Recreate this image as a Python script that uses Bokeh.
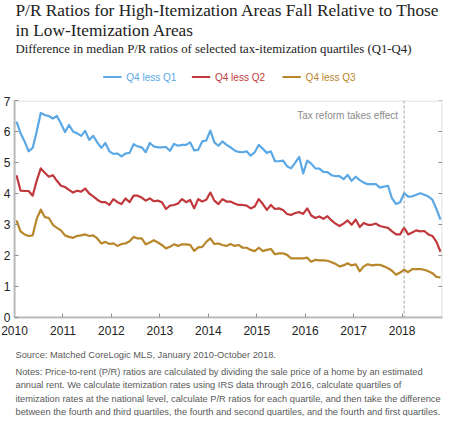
import math
import pandas as pd
from bokeh.plotting import figure
from bokeh.layouts import column
from bokeh.models import (Range1d, FixedTicker, Label, Span, ColumnDataSource, BoxAnnotation)
from bokeh.embed import file_html
from bokeh.resources import INLINE

# ---------------- data ----------------
months = pd.date_range("2010-01-01", "2018-10-01", freq="MS")

q4_less_q1 = [6.32, 5.94, 5.68, 5.36, 5.47, 6.00, 6.60, 6.53, 6.50, 6.42, 6.50, 6.26,
              5.98, 6.21, 6.00, 5.94, 5.86, 6.02, 5.73, 5.86, 5.65, 5.47, 5.63, 5.36,
              5.28, 5.29, 5.20, 5.29, 5.31, 5.59, 5.52, 5.49, 5.33, 5.63, 5.52, 5.49,
              5.49, 5.50, 5.38, 5.60, 5.54, 5.57, 5.57, 5.65, 5.39, 5.41, 5.68, 5.71,
              6.03, 5.65, 5.54, 5.68, 5.57, 5.49, 5.39, 5.34, 5.33, 5.36, 5.22, 5.33,
              5.57, 5.44, 5.31, 5.36, 5.04, 5.04, 5.06, 4.88, 4.81, 4.99, 5.18, 4.65,
              5.06, 4.96, 4.81, 4.80, 4.70, 4.69, 4.59, 4.56, 4.56, 4.46, 4.60, 4.41,
              4.54, 4.43, 4.35, 4.30, 4.30, 4.30, 4.19, 4.22, 4.25, 3.84, 3.66, 3.72,
              4.01, 3.90, 3.91, 3.96, 4.01, 3.96, 3.90, 3.80, 3.50, 3.16]

q4_less_q2 = [4.59, 4.09, 4.08, 4.08, 3.93, 4.41, 4.81, 4.67, 4.54, 4.59, 4.41, 4.25,
              4.21, 4.12, 4.03, 4.09, 4.06, 4.16, 4.00, 3.91, 3.80, 3.72, 3.72, 3.63,
              3.82, 3.72, 3.66, 3.84, 3.72, 3.93, 3.93, 3.87, 3.77, 3.84, 3.75, 3.77,
              3.72, 3.50, 3.61, 3.63, 3.68, 3.82, 3.72, 3.79, 3.52, 3.82, 3.74, 3.80,
              4.03, 3.77, 3.66, 3.82, 3.74, 3.74, 3.68, 3.63, 3.63, 3.61, 3.52, 3.58,
              3.82, 3.66, 3.47, 3.63, 3.50, 3.52, 3.47, 3.34, 3.31, 3.37, 3.40, 3.34,
              3.52, 3.29, 3.21, 3.26, 3.18, 3.27, 3.13, 3.03, 2.95, 3.03, 3.13, 2.99,
              3.16, 2.92, 3.05, 2.99, 2.99, 3.03, 2.95, 2.92, 2.89, 2.78, 2.68, 2.68,
              2.90, 2.68, 2.74, 2.81, 2.78, 2.79, 2.68, 2.63, 2.44, 2.12]

q4_less_q3 = [3.13, 2.78, 2.68, 2.63, 2.65, 3.18, 3.48, 3.24, 3.21, 2.99, 2.89, 2.81,
              2.65, 2.60, 2.57, 2.63, 2.65, 2.68, 2.63, 2.65, 2.55, 2.39, 2.44, 2.37,
              2.39, 2.31, 2.37, 2.39, 2.46, 2.60, 2.55, 2.55, 2.36, 2.42, 2.49, 2.42,
              2.34, 2.23, 2.28, 2.36, 2.31, 2.36, 2.36, 2.34, 2.15, 2.26, 2.28, 2.44,
              2.55, 2.37, 2.39, 2.34, 2.31, 2.37, 2.31, 2.34, 2.25, 2.25, 2.18, 2.14,
              2.25, 2.14, 2.18, 2.21, 2.04, 2.07, 2.07, 2.02, 1.91, 1.91, 1.91, 1.91,
              1.93, 1.80, 1.86, 1.84, 1.84, 1.83, 1.78, 1.73, 1.65, 1.68, 1.75, 1.68,
              1.72, 1.49, 1.65, 1.72, 1.68, 1.70, 1.70, 1.65, 1.59, 1.51, 1.38, 1.45,
              1.54, 1.46, 1.56, 1.56, 1.56, 1.54, 1.49, 1.43, 1.31, 1.29]

series_names = ["Q4 less Q1", "Q4 less Q2", "Q4 less Q3"]
year_ticks = list(range(2010, 2019))
value_ticks = list(range(0, 8))
tax_reform_month = pd.Timestamp("2018-01-01")
tax_reform_text = "Tax reform takes effect"

title_lines = ["P/R Ratios for High-Itemization Areas Fall Relative to Those",
               "in Low-Itemization Areas"]
subtitle = "Difference in median P/R ratios of selected tax-itemization quartiles (Q1-Q4)"
source_note = "Source: Matched CoreLogic MLS, January 2010-October 2018."
notes_lines = [
    "Notes: Price-to-rent (P/R) ratios are calculated by dividing the sale price of a home by an estimated",
    "annual rent. We calculate itemization rates using IRS data through 2016, calculate quartiles of",
    "itemization rates at the national level, calculate P/R ratios for each quartile, and then take the difference",
    "between the fourth and third quartiles, the fourth and second quartiles, and the fourth and first quartiles.",
]

# ---------------- style ----------------
colors = ["#5BA8E5", "#C1393D", "#B8862B"]
SANS = "Liberation Sans"
SERIF = "Liberation Serif"
FRAME_COLOR = "#bdbdbd"
TICK_COLOR = "#8a8a8a"
W = 444
HEAD_H, MAIN_H, FOOT_H = 96, 245, 75
MAIN_TOP, MAIN_BOTTOM, MAIN_LEFT, MAIN_RIGHT = 4, 24, 11, 2
TX = 1


def frac_year(ts):
    return ts.year + (ts.month - 0.5) / 12.0


def text_panel(height):
    f = figure(width=W, height=height, output_backend="svg", toolbar_location=None,
               title=None, x_range=Range1d(0, W), y_range=Range1d(0, height),
               x_axis_type=None, y_axis_type=None, min_border=0,
               min_border_left=0, min_border_right=0, min_border_top=0,
               min_border_bottom=0, width_policy="fixed", height_policy="fixed")
    f.xgrid.visible = False
    f.ygrid.visible = False
    f.outline_line_color = None
    f.background_fill_color = "white"
    f.border_fill_color = "white"
    return f


# ---------------- header ----------------
head = text_panel(HEAD_H)
head.add_layout(Label(x=TX, y=86, text=title_lines[0], text_font=SERIF,
                      text_font_size="17.3px", text_color="#222222",
                      text_baseline="middle"))
head.add_layout(Label(x=TX, y=66.5, text=title_lines[1], text_font=SERIF,
                      text_font_size="17.3px", text_color="#222222",
                      text_baseline="middle"))
head.add_layout(Label(x=TX, y=48, text=subtitle, text_font=SERIF,
                      text_font_size="12.8px", text_color="#222222",
                      text_baseline="middle"))

legend_x = [92, 184, 278]
legend_y = 19.5
for name, c, lx in zip(series_names, colors, legend_x):
    head.add_layout(BoxAnnotation(left=lx, right=lx + 19, bottom=legend_y - 1,
                                  top=legend_y + 1, fill_color=c, fill_alpha=1,
                                  line_color=None))
    head.add_layout(Label(x=lx + 24, y=legend_y, text=name, text_font=SANS,
                          text_font_size="10px", text_color=c, text_baseline="middle"))

# ---------------- main chart ----------------
x_vals = [frac_year(t) for t in months]
src = ColumnDataSource(dict(x=x_vals, q1=q4_less_q1, q2=q4_less_q2, q3=q4_less_q3))
x_end = 2018 + 10 / 12.0

p = figure(width=W, height=MAIN_H, output_backend="svg", toolbar_location=None, title=None,
           x_range=Range1d(2010, x_end), y_range=Range1d(0, 7),
           min_border_left=MAIN_LEFT, min_border_right=MAIN_RIGHT,
           min_border_top=MAIN_TOP, min_border_bottom=MAIN_BOTTOM,
           width_policy="fixed", height_policy="fixed")
p.xgrid.visible = False
p.ygrid.visible = False
p.outline_line_color = None
p.background_fill_color = "white"
p.border_fill_color = "white"

p.xaxis.ticker = FixedTicker(ticks=year_ticks)
p.yaxis.ticker = FixedTicker(ticks=value_ticks)
for ax in (p.xaxis, p.yaxis):
    ax.axis_line_color = FRAME_COLOR
    ax.axis_line_width = 2
    ax.major_tick_in = 4
    ax.major_tick_out = 0
    ax.minor_tick_in = 0
    ax.minor_tick_out = 0
    ax.major_tick_line_color = TICK_COLOR
    ax.major_label_text_font = SANS
    ax.major_label_text_font_size = "12px"
    ax.major_label_text_color = "#222222"
p.xaxis.major_label_standoff = 8
p.yaxis.major_label_standoff = 4

# top / right frame edges and right-hand tick marks
p.add_layout(BoxAnnotation(fill_alpha=0, line_color=FRAME_COLOR, line_width=3))
p.ray(x=[x_end] * len(value_ticks), y=value_ticks, length=4, length_units="screen",
      angle=math.pi, line_color=TICK_COLOR, line_width=1)

tr_x = frac_year(tax_reform_month)
p.add_layout(Span(location=tr_x, dimension="height", line_color="#a6a6a6",
                  line_dash="3 2", line_width=1))

for col, c in zip(["q1", "q2", "q3"], colors):
    p.line("x", col, source=src, line_color=c, line_width=2.2, line_join="round")

frame_h = MAIN_H - MAIN_TOP - MAIN_BOTTOM
p.add_layout(Label(x=tr_x, y=frame_h - 15, x_units="data", y_units="screen",
                   text=tax_reform_text, text_align="right", text_baseline="middle",
                   x_offset=-6, text_font=SANS, text_font_size="10px",
                   text_color="#8c8c8c"))

# ---------------- footer ----------------
foot = text_panel(FOOT_H)
foot.add_layout(Label(x=TX, y=62, text=source_note, text_font=SANS,
                      text_font_size="9.3px", text_color="#595959",
                      text_baseline="middle"))
for i, line in enumerate(notes_lines):
    foot.add_layout(Label(x=TX, y=45 - 13.5 * i, text=line, text_font=SANS,
                          text_font_size="9.3px", text_color="#595959",
                          text_baseline="middle"))

layout = column(head, p, foot, spacing=0)
open("out.html", "w").write(file_html(layout, INLINE))
